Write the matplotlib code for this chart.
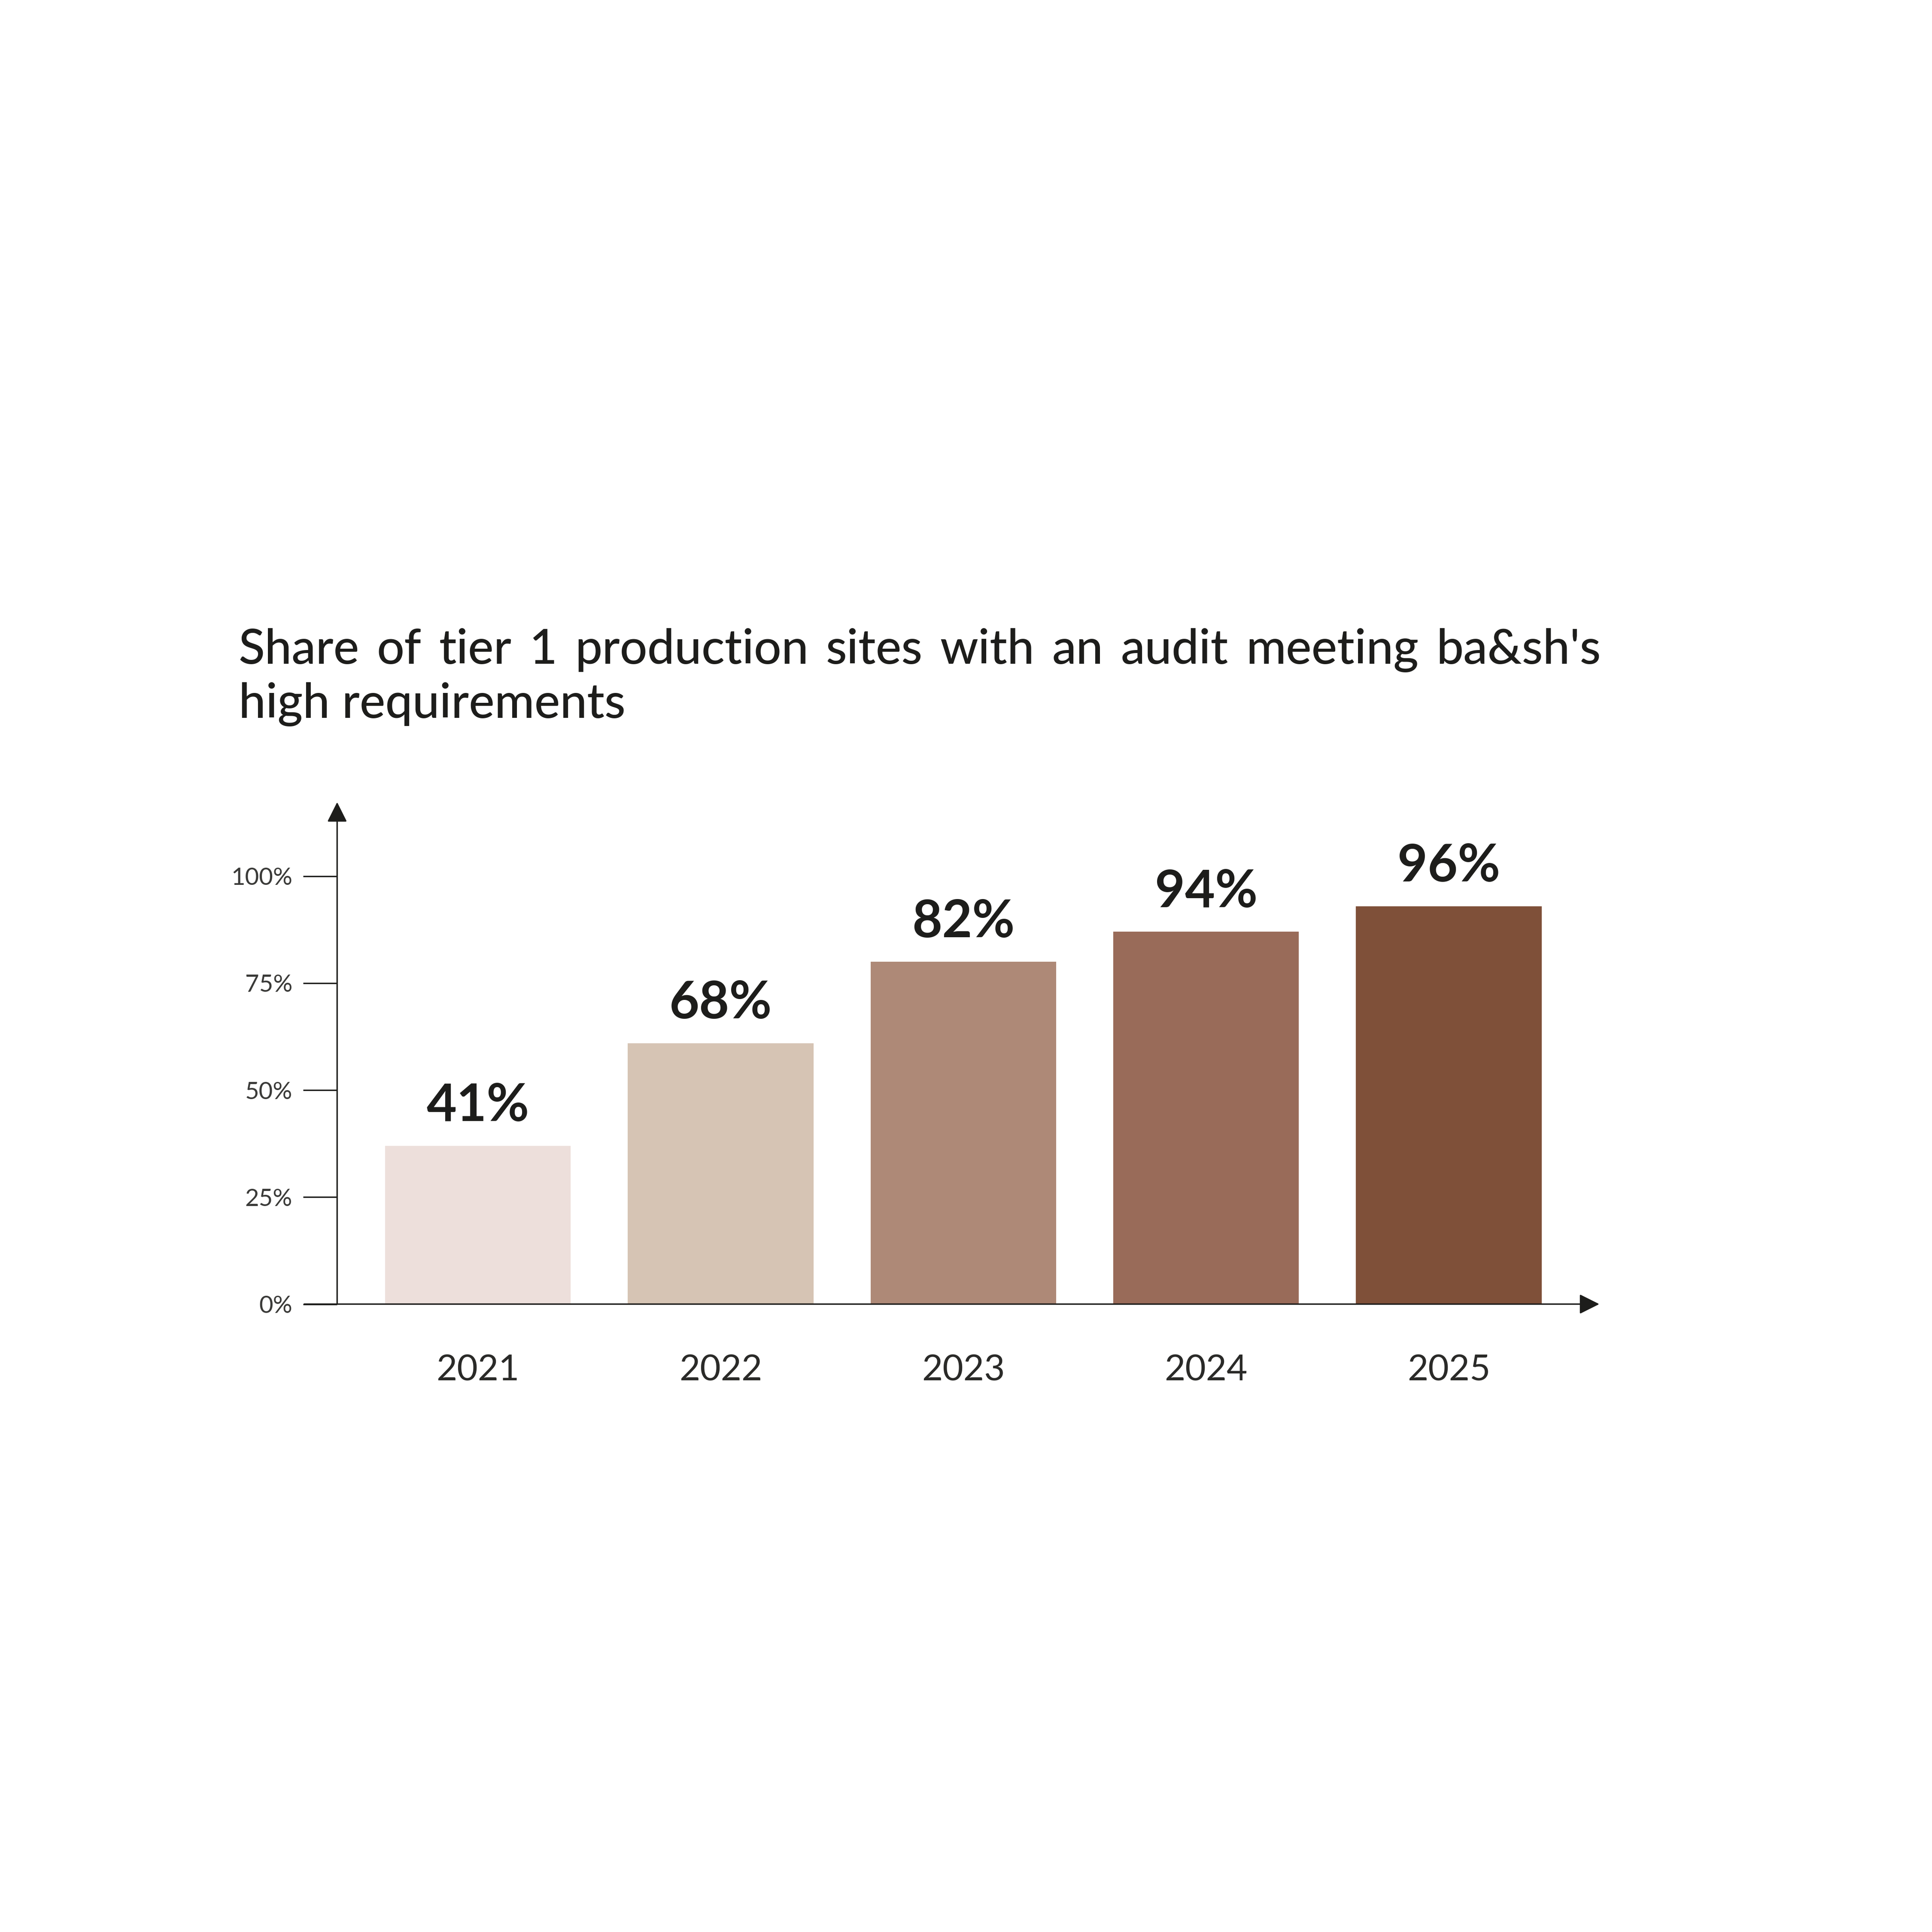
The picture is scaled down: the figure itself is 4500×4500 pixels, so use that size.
import matplotlib

matplotlib.use('Agg')
import matplotlib.pyplot as plt

# chart values
years = ['2021', '2022', '2023', '2024', '2025']
bar_heights = [37, 61, 80, 87, 93]          # drawn height of each bar (%)
value_labels = ['41%', '68%', '82%', '94%', '96%']
bar_colors = ['#EDDFDB', '#D6C4B4', '#AE8977', '#996B59', '#7F5039']
y_ticks = [0, 25, 50, 75, 100]
y_tick_labels = ['0%', '25%', '50%', '75%', '100%']
title_line1 = "Share of tier 1 production sites with an audit meeting ba&sh's"
title_line2 = "high requirements"

ink = '#1D1D1B'
plt.rcParams['font.family'] = ['Lato', 'DejaVu Sans']

fig = plt.figure(figsize=(15, 15), dpi=300, facecolor='white')

# axes box: left edge on the y axis line, bottom on the x axis line
ax_left, ax_bottom = 0.1745, 0.325
ax_width, ax_height = 0.6533, 0.2598
ax = fig.add_axes([ax_left, ax_bottom, ax_width, ax_height])
ax.set_xlim(-0.58, 4.62)
ax.set_ylim(0, 117.3)
for side in ['top', 'right', 'left', 'bottom']:
    ax.spines[side].set_visible(False)

# bars
x = list(range(len(years)))
ax.bar(x, bar_heights, width=0.765, color=bar_colors, zorder=1)

# value labels above each bar
for i, h in enumerate(bar_heights):
    ax.annotate(value_labels[i], (x[i], h), xytext=(0, 9), textcoords='offset points',
                ha='center', va='bottom', fontsize=29, fontweight='bold', color=ink)

# y ticks drawn as short marks left of the axis
ax.set_yticks(y_ticks)
ax.set_yticklabels(y_tick_labels)
ax.tick_params(axis='y', length=19, width=0.8, color=ink, pad=6,
               labelsize=13.5, labelcolor='#3A3A38')
ax.set_xticks([])

# axis lines with filled arrow heads
arrow = dict(arrowstyle='-|>,head_length=0.8,head_width=0.4', color=ink, lw=0.8,
             mutation_scale=12, shrinkA=0, shrinkB=0)
ax.annotate('', xy=(0, 1), xytext=(0, 0), xycoords='axes fraction',
            arrowprops=arrow, annotation_clip=False)
ax.annotate('', xy=(1, 0), xytext=(-0.026, 0), xycoords='axes fraction',
            arrowprops=arrow, annotation_clip=False)

# year labels under the axis
year_y = -(ax_bottom - 0.2855) / ax_height
for i, yr in enumerate(years):
    ax.text(x[i], year_y, yr, transform=ax.get_xaxis_transform(), ha='center',
            va='baseline', fontsize=20, color='#2A2A28')

# title: first line spread word by word across the full width, second line left
title_left, title_right = 0.1235, 0.8285
words = title_line1.split(' ')
word_texts = [fig.text(title_left, 0.6565, w, ha='left', va='baseline', fontsize=27,
                       fontweight='medium', color=ink) for w in words]
fig.canvas.draw()
renderer = fig.canvas.get_renderer()
fig_w = fig.bbox.width
widths = [t.get_window_extent(renderer).width / fig_w for t in word_texts]
gap = (title_right - title_left - sum(widths)) / (len(words) - 1)
pos = title_left
for t, w in zip(word_texts, widths):
    t.set_x(pos)
    pos += w + gap
fig.text(title_left, 0.6285, title_line2, ha='left', va='baseline', fontsize=27,
         fontweight='medium', color=ink)

plt.savefig('out.png', dpi=300, facecolor='white')
